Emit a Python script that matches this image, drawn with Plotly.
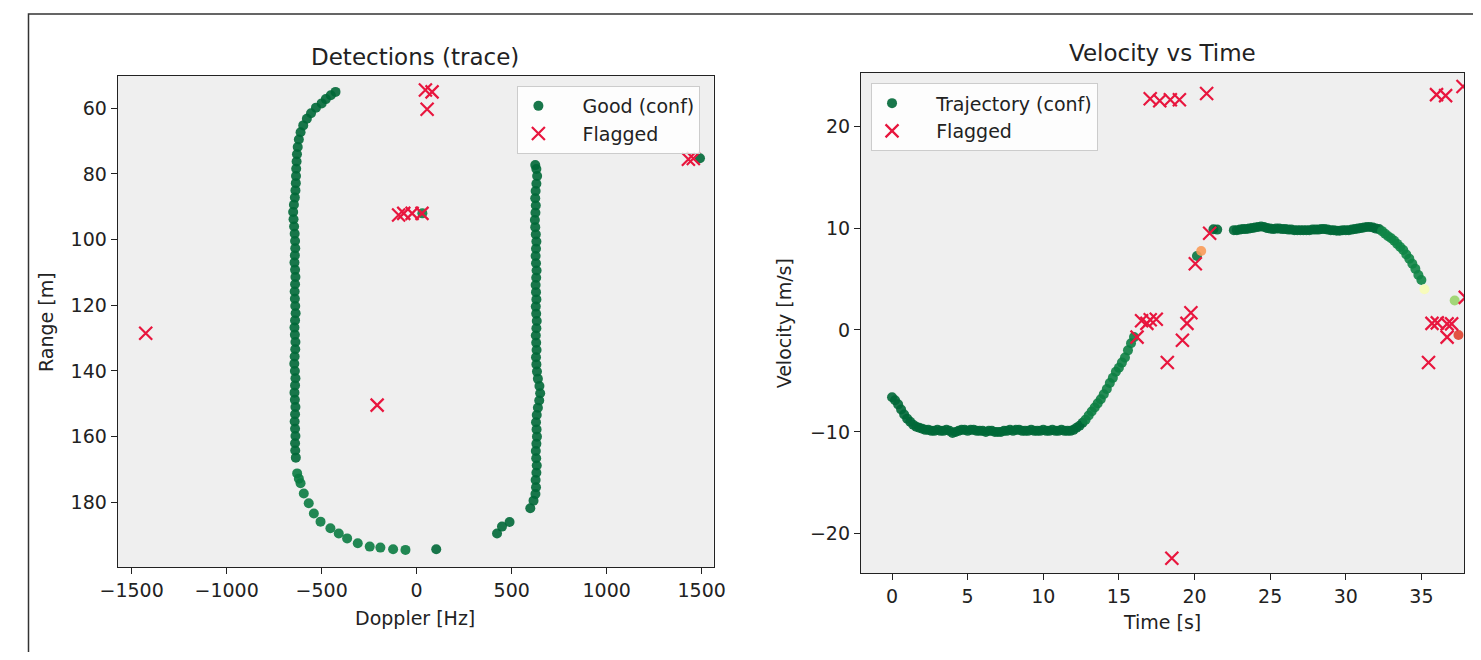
import plotly.graph_objects as go

# page layout compensation (observed: screen_x ~ 0.98 * fig_x + 25.5, screen_y ~ fig_y + 8)
SX, BX = 0.98, 25.5
OY = 8
W, H = 1485, 660 - 2 * OY

# ---------------- Left panel: Detections (trace) ----------------
good_doppler = [
    -427, -452, -478, -500, -530, -556, -578, -597, -611, -620, -626, -630, -632, -634, -635,
    -636, -638, -641, -646, -650, -648, -645, -642, -640, -639, -641, -643, -640, -638, -640,
    -642, -641, -639, -637, -640, -643, -641, -638, -639, -642, -644, -641, -638, -640, -643,
    -641, -638, -640, -642, -640, -638, -640, -639, -636, -629, -620, -611, -594, -568, -541,
    -506, -454, -410, -366, -310, -247, -191, -124, -59, 103,
    423, 449, 489, 598, 615, 625, 628, 626, 630, 632, 629, 627, 630, 633, 631, 628, 632, 638,
    645, 650, 646, 638, 633, 630, 628, 631, 629, 627, 630, 632, 629, 627, 630, 628, 626, 629,
    631, 628, 626, 628, 630, 627, 624, 622, 625, 627, 624, 626, 630, 634, 630, 624,
    30, 1491,
]
good_range = [
    55.0, 56.0, 57.2, 58.5, 59.8, 61.5, 63.2, 65.2, 67.3, 69.5, 71.8, 74.0, 76.2, 78.4, 80.6,
    82.8, 85.0, 87.2, 89.4, 91.6, 93.8, 96.0, 98.2, 100.4, 102.6, 104.8, 107.0, 109.2, 111.4, 113.6,
    115.8, 118.0, 120.2, 122.4, 124.6, 126.8, 129.0, 131.2, 133.4, 135.6, 137.8, 140.0, 142.2, 144.4, 146.6,
    148.8, 151.0, 153.2, 155.4, 157.6, 159.8, 162.0, 164.2, 166.4, 171.2, 172.8, 174.2, 177.3, 180.3, 183.4,
    185.9, 187.9, 189.5, 191.0, 192.5, 193.5, 193.8, 194.3, 194.5, 194.3,
    189.5, 187.4, 186.0, 181.8, 179.5, 177.5, 175.4, 173.2, 171.0, 168.8, 166.6, 164.4, 162.2, 160.0, 157.8, 155.6, 153.4, 151.2,
    149.0, 146.8, 144.6, 142.4, 140.2, 138.0, 135.8, 133.6, 131.4, 129.2, 127.0, 124.8, 122.6, 120.4, 118.2, 116.0, 113.8, 111.6,
    109.4, 107.2, 105.0, 102.8, 100.6, 98.4, 96.2, 94.0, 91.8, 89.6, 87.4, 85.2, 83.0, 80.6, 78.5, 77.3,
    92.0, 75.2,
]
good_conf = [1.0] * 54 + [0.96] * 15 + [1.0] + [1.0] * 52 + [0.95, 1.0]

flag_doppler = [46, 81, 55, -95, -68, -24, 28, 1430, 1456, -1426, -208]
flag_range = [54.4, 55.0, 60.3, 92.5, 92.0, 92.0, 92.0, 75.5, 75.3, 128.5, 150.4]

# ---------------- Right panel: Velocity vs Time ----------------
traj_time = [
    0.0, 0.2, 0.4, 0.6, 0.8, 1.0, 1.2, 1.4, 1.6, 1.8, 2.0, 2.2, 2.4, 2.6, 2.8, 3.0, 3.2, 3.4, 3.6, 3.8,
    4.0, 4.2, 4.4, 4.6, 4.8, 5.0, 5.2, 5.4, 5.6, 5.8, 6.0, 6.2, 6.4, 6.6, 6.8, 7.0, 7.2, 7.4, 7.6, 7.8,
    8.0, 8.2, 8.4, 8.6, 8.8, 9.0, 9.2, 9.4, 9.6, 9.8, 10.0, 10.2, 10.4, 10.6, 10.8, 11.0, 11.2, 11.4, 11.6, 11.8,
    12.0, 12.2, 12.4, 12.6, 12.8, 13.0, 13.2, 13.4, 13.6, 13.8, 14.0, 14.2, 14.4, 14.6, 14.8, 15.0, 15.2, 15.4, 15.6, 15.8,
    16.0,
    20.16, 20.44, 21.25, 21.5,
    22.6, 22.8, 23.0, 23.2, 23.4, 23.6, 23.8, 24.0, 24.2, 24.4, 24.6, 24.8, 25.0, 25.2, 25.4, 25.6, 25.8, 26.0, 26.2, 26.4,
    26.6, 26.8, 27.0, 27.2, 27.4, 27.6, 27.8, 28.0, 28.2, 28.4, 28.6, 28.8, 29.0, 29.2, 29.4, 29.6, 29.8, 30.0, 30.2, 30.4,
    30.6, 30.8, 31.0, 31.2, 31.4, 31.6, 31.8, 32.0, 32.2, 32.4, 32.6, 32.8, 33.0, 33.2, 33.4, 33.6, 33.8, 34.0, 34.2, 34.4,
    34.6, 34.8, 35.0,
    35.2, 37.2, 37.45,
]
traj_vel = [
    -6.6, -6.9, -7.3, -7.8, -8.3, -8.7, -9.0, -9.3, -9.5, -9.6, -9.7, -9.8, -9.8, -9.9, -9.9, -9.8, -9.9, -9.9, -9.8, -9.9,
    -10.1, -10.0, -9.9, -9.8, -9.8, -9.9, -9.8, -9.8, -9.9, -9.9, -9.9, -10.0, -9.9, -9.9, -10.0, -10.0, -10.0, -9.9, -9.9, -9.8,
    -9.9, -9.8, -9.8, -9.9, -9.9, -9.9, -9.8, -9.9, -9.9, -9.9, -9.8, -9.9, -9.9, -9.8, -9.9, -9.9, -9.8, -9.9, -9.9, -9.9,
    -9.8, -9.6, -9.4, -9.1, -8.8, -8.4, -8.0, -7.6, -7.2, -6.8, -6.3, -5.8, -5.2, -4.7, -4.1, -3.7, -3.2, -2.7, -2.0, -1.3,
    -0.7,
    7.26, 7.75, 9.88, 9.85,
    9.8, 9.8, 9.85, 9.9, 9.9, 9.95, 10.0, 10.05, 10.1, 10.15, 10.1, 10.0, 9.95, 9.9, 9.95, 9.95, 9.9, 9.9, 9.85, 9.85,
    9.8, 9.8, 9.8, 9.8, 9.8, 9.8, 9.85, 9.85, 9.85, 9.9, 9.9, 9.85, 9.8, 9.8, 9.75, 9.75, 9.8, 9.8, 9.8, 9.85,
    9.9, 9.95, 10.0, 10.05, 10.1, 10.1, 10.05, 9.95, 9.9, 9.7, 9.45, 9.2, 9.0, 8.75, 8.45, 8.15, 7.85, 7.4, 7.0, 6.5,
    6.0, 5.4, 4.9,
    4.0, 2.9, -0.5,
]
traj_conf = ([1.0] * 64 + [0.95] * 17
             + [0.97, 0.27, 1.0, 1.0]
             + [1.0] * 49 + [0.94] * 14
             + [0.52, 0.72, 0.13])

flag_time = [16.2, 16.5, 16.85, 17.07, 17.47, 18.2, 18.5, 19.2, 19.5, 19.76, 20.05, 21.0,
             17.07, 17.7, 18.4, 19.0, 20.8,
             35.47, 35.7, 36.05, 36.7, 37.0, 36.7, 36.0, 36.6, 37.75, 37.9]
flag_vel = [-0.7, 0.9, 0.65, 1.0, 1.05, -3.2, -22.4, -1.0, 0.65, 1.7, 6.5, 9.5,
            22.7, 22.5, 22.6, 22.6, 23.2,
            -3.2, 0.65, 0.7, 0.6, 0.6, -0.7, 23.1, 23.0, 23.9, 3.2]

FONT = "DejaVu Sans"
TXT = "#222222"
RED = "#e8163e"
PAD = "\u00a0\u00a0\u00a0\u00a0"

fig = go.Figure()

good_marker = dict(size=10, colorscale="RdYlGn", cmin=0, cmax=1,
                   opacity=0.9, line=dict(width=0))
flag_marker = dict(symbol="x-thin", size=13, line=dict(width=2.2, color=RED), color=RED)

fig.add_trace(go.Scatter(
    x=good_doppler, y=good_range, mode="markers", name=PAD + "Good (conf)",
    marker={**good_marker, "color": good_conf}, xaxis="x", yaxis="y", legend="legend"))
fig.add_trace(go.Scatter(
    x=flag_doppler, y=flag_range, mode="markers", name=PAD + "Flagged",
    marker=flag_marker, xaxis="x", yaxis="y", legend="legend"))
fig.add_trace(go.Scatter(
    x=traj_time, y=traj_vel, mode="markers", name=PAD + "Trajectory (conf)",
    marker={**good_marker, "color": traj_conf}, xaxis="x2", yaxis="y2", legend="legend2"))
fig.add_trace(go.Scatter(
    x=flag_time, y=flag_vel, mode="markers", name=PAD + "Flagged",
    marker=flag_marker, xaxis="x2", yaxis="y2", legend="legend2"))

axis_common = dict(showgrid=False, zeroline=False, showline=True, mirror=True,
                   linecolor="#222222", linewidth=1.3, ticks="outside", ticklen=6,
                   tickwidth=1.2, tickcolor="#222222",
                   tickfont=dict(family=FONT, size=19, color=TXT))


def px_x(p):
    return ((p - BX) / SX) / W


def px_y(p):
    return 1 - (p - OY) / H


legend_common = dict(xanchor="left", yanchor="top",
                     bgcolor="rgba(255,255,255,0.85)", bordercolor="#cccccc", borderwidth=1,
                     font=dict(family=FONT, size=19, color=TXT), tracegroupgap=0)

fig.update_layout(
    width=W, height=H, autosize=False,
    margin=dict(l=0, r=0, t=0, b=0),
    paper_bgcolor="white", plot_bgcolor="#efefef",
    font=dict(family=FONT, size=19, color=TXT),
    xaxis=dict(**axis_common, domain=[px_x(117.3), px_x(713.3)], range=[-1573, 1563],
               tickvals=[-1500, -1000, -500, 0, 500, 1000, 1500], anchor="y"),
    yaxis=dict(**axis_common, domain=[px_y(567.3), px_y(75.7)], range=[199.8, 50.07],
               tickvals=[60, 80, 100, 120, 140, 160, 180], anchor="x"),
    xaxis2=dict(**axis_common, domain=[px_x(860.7), px_x(1464)], range=[-2.05, 37.83],
                tickvals=[0, 5, 10, 15, 20, 25, 30, 35], anchor="y2"),
    yaxis2=dict(**axis_common, domain=[px_y(573), px_y(72.7)], range=[-23.85, 25.25],
                tickvals=[-20, -10, 0, 10, 20], anchor="x2"),
    legend=dict(x=px_x(517), y=px_y(86), **legend_common),
    legend2=dict(x=px_x(870.7), y=px_y(83.3), **legend_common),
    showlegend=True,
)

annots = [
    dict(text="Detections (trace)", x=px_x(415), y=px_y(57), size=23, angle=0),
    dict(text="Velocity vs Time", x=px_x(1162), y=px_y(53), size=23, angle=0),
    dict(text="Doppler [Hz]", x=px_x(415), y=px_y(618), size=19, angle=0),
    dict(text="Time [s]", x=px_x(1162), y=px_y(622), size=19, angle=0),
    dict(text="Range [m]", x=px_x(45), y=px_y(321.5), size=19, angle=-90),
    dict(text="Velocity [m/s]", x=px_x(784), y=px_y(323), size=19, angle=-90),
]
for a in annots:
    fig.add_annotation(text=a["text"], x=a["x"], y=a["y"], xref="paper", yref="paper",
                       xanchor="center", yanchor="middle", showarrow=False,
                       textangle=a["angle"], font=dict(family=FONT, size=a["size"], color=TXT))

fig.add_shape(type="rect", xref="paper", yref="paper",
              x0=px_x(28), x1=px_x(1477), y0=-0.2, y1=px_y(14),
              line=dict(color="#333333", width=1.5), fillcolor="rgba(0,0,0,0)", layer="above")

fig.write_html("out.html")
